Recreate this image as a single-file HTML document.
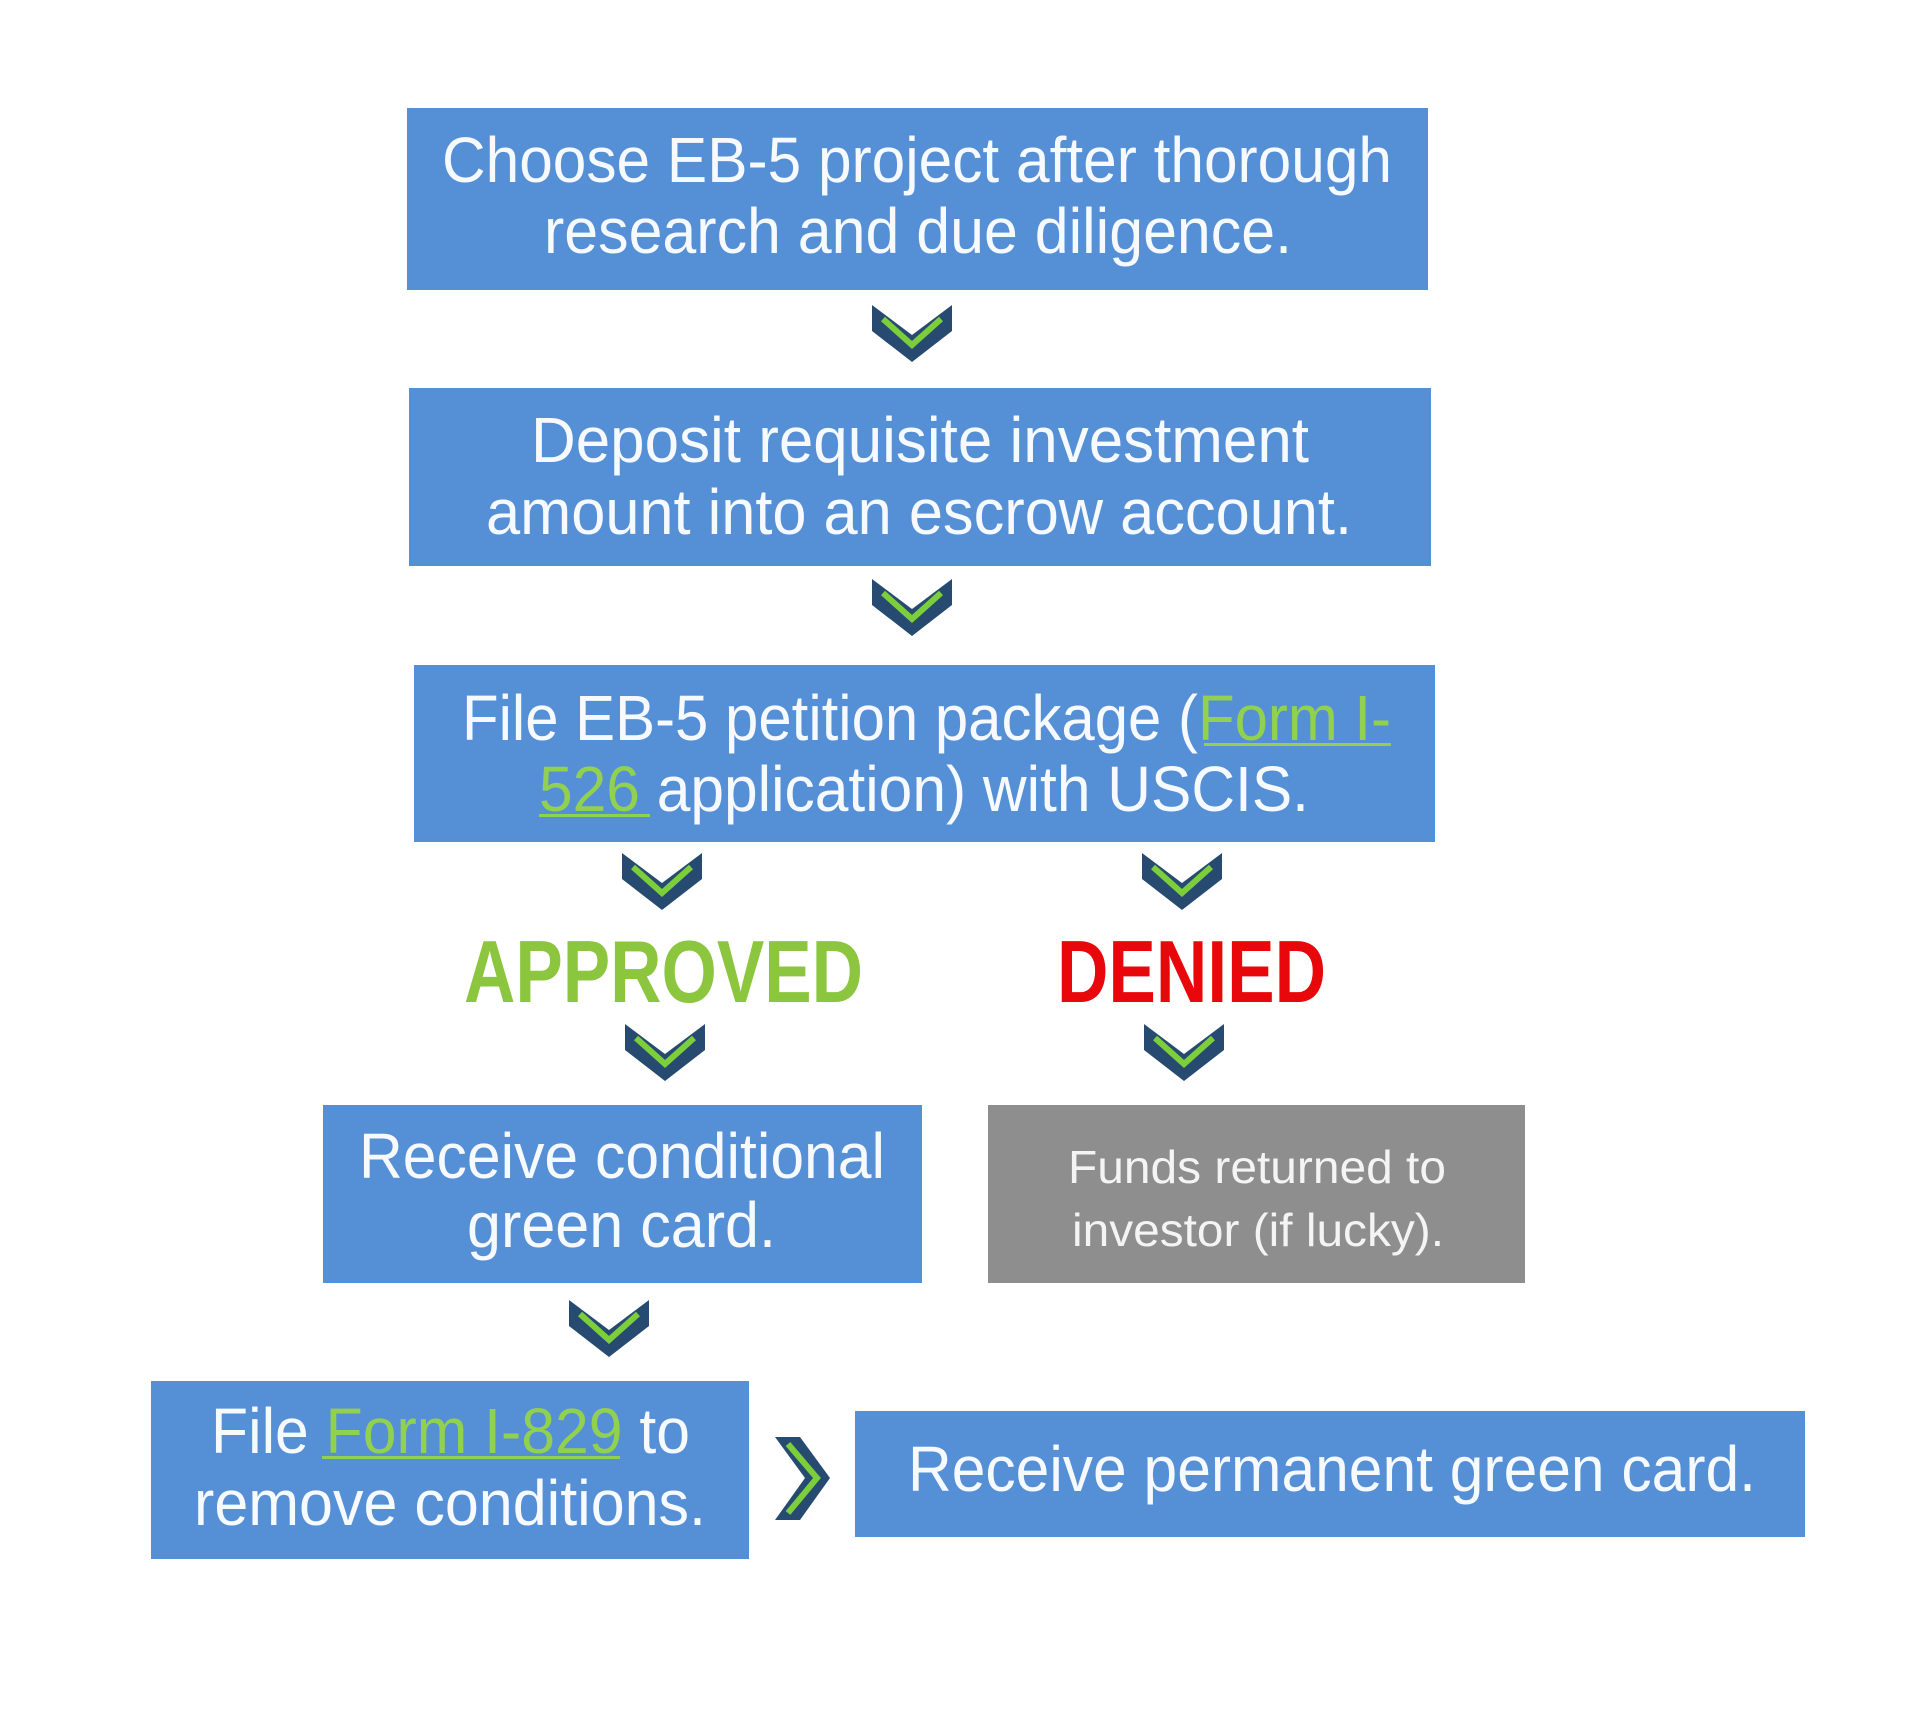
<!DOCTYPE html>
<html>
<head>
<meta charset="utf-8">
<style>
  html,body{margin:0;padding:0;background:#fff;}
  svg{display:block;}
  .t{font-family:"Liberation Sans",sans-serif;fill:#f6f9fd;font-size:64px;}
  .g{font-family:"Liberation Sans",sans-serif;fill:#f4f4f4;font-size:46px;}
  .lk{fill:#92d050;}
  .big{font-family:"Liberation Sans",sans-serif;font-weight:bold;font-size:88px;}
</style>
</head>
<body>
<svg width="1920" height="1711" viewBox="0 0 1920 1711" xmlns="http://www.w3.org/2000/svg">
  <defs>
    <g id="chev">
      <polygon points="-40,0 0,30 40,0 40,26 0,57 -40,26" fill="#274b70"/>
      <polyline points="-29,14 0,40 29,14" fill="none" stroke="#7ccf3a" stroke-width="6"/>
    </g>
  </defs>
  <rect width="1920" height="1711" fill="#ffffff"/>

  <!-- Box 1 -->
  <rect x="407" y="108" width="1021" height="182" fill="#5590d6"/>
  <text class="t" x="442" y="182" textLength="950" lengthAdjust="spacingAndGlyphs">Choose EB-5 project after thorough</text>
  <text class="t" x="544" y="253" textLength="748" lengthAdjust="spacingAndGlyphs">research and due diligence.</text>

  <use href="#chev" x="912" y="305"/>

  <!-- Box 2 -->
  <rect x="409" y="388" width="1022" height="178" fill="#5590d6"/>
  <text class="t" x="531" y="462" textLength="778" lengthAdjust="spacingAndGlyphs">Deposit requisite investment</text>
  <text class="t" x="486" y="534" textLength="866" lengthAdjust="spacingAndGlyphs">amount into an escrow account.</text>

  <use href="#chev" x="912" y="579"/>

  <!-- Box 3 -->
  <rect x="414" y="665" width="1021" height="177" fill="#5590d6"/>
  <text class="t" x="462" y="740" textLength="929" lengthAdjust="spacingAndGlyphs">File EB-5 petition package (<tspan class="lk">Form I-</tspan></text>
  <rect x="1204" y="743" width="187" height="3" fill="#92d050"/>
  <text class="t" x="539" y="811" textLength="770" lengthAdjust="spacingAndGlyphs"><tspan class="lk">526</tspan> application) with USCIS.</text>
  <rect x="539" y="814" width="111" height="3" fill="#92d050"/>

  <use href="#chev" x="662" y="853"/>
  <use href="#chev" x="1182" y="853"/>

  <text class="big" x="464" y="1002" fill="#8cc63f" textLength="399" lengthAdjust="spacingAndGlyphs">APPROVED</text>
  <text class="big" x="1057" y="1002" fill="#e8080c" textLength="269" lengthAdjust="spacingAndGlyphs">DENIED</text>

  <use href="#chev" x="665" y="1024"/>
  <use href="#chev" x="1184" y="1024"/>

  <!-- Box 4 -->
  <rect x="323" y="1105" width="599" height="178" fill="#5590d6"/>
  <text class="t" x="359" y="1178" textLength="526" lengthAdjust="spacingAndGlyphs">Receive conditional</text>
  <text class="t" x="467" y="1247" textLength="309" lengthAdjust="spacingAndGlyphs">green card.</text>

  <!-- Box 5 gray -->
  <rect x="988" y="1105" width="537" height="178" fill="#8e8e8e"/>
  <text class="g" x="1068" y="1183" textLength="378" lengthAdjust="spacingAndGlyphs">Funds returned to</text>
  <text class="g" x="1072" y="1246" textLength="372" lengthAdjust="spacingAndGlyphs">investor (if lucky).</text>

  <use href="#chev" x="609" y="1300"/>

  <!-- Box 6 -->
  <rect x="151" y="1381" width="598" height="178" fill="#5590d6"/>
  <text class="t" x="211" y="1453" textLength="479" lengthAdjust="spacingAndGlyphs">File <tspan class="lk">Form I-829</tspan> to</text>
  <rect x="322" y="1456" width="298" height="3" fill="#92d050"/>
  <text class="t" x="194" y="1525" textLength="512" lengthAdjust="spacingAndGlyphs">remove conditions.</text>

  <!-- right chevron -->
  <g transform="translate(775,1437)">
    <polygon points="0,0 25,0 55,41 25,83 0,83 30,41" fill="#274b70"/>
    <polyline points="13,7 42,41 13,76" fill="none" stroke="#7ccf3a" stroke-width="6"/>
  </g>

  <!-- Box 7 -->
  <rect x="855" y="1411" width="950" height="126" fill="#5590d6"/>
  <text class="t" x="908" y="1491" textLength="848" lengthAdjust="spacingAndGlyphs">Receive permanent green card.</text>
</svg>
</body>
</html>
